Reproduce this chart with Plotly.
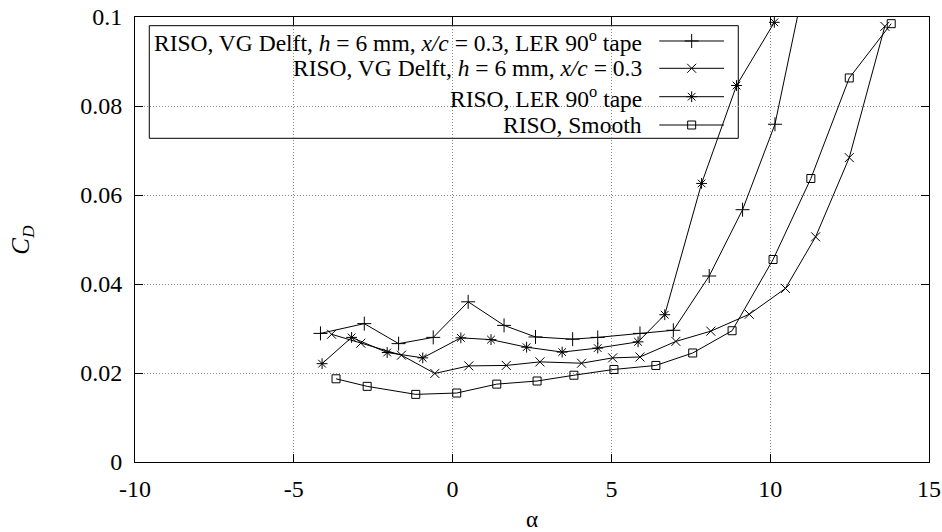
import plotly.graph_objects as go

# ---- data ----
alpha_ler_vg = [-4.16, -2.78, -1.70, -0.61, 0.49, 1.62, 2.61, 3.78, 4.57, 5.90, 6.95, 8.08, 9.13, 10.15, 11.15]
cd_ler_vg = [0.0289, 0.0311, 0.0266, 0.0280, 0.0360, 0.0307, 0.0281, 0.0276, 0.0280, 0.0289, 0.0296, 0.0418, 0.0567, 0.0759, 0.1100]

alpha_vg = [-3.81, -2.89, -1.61, -0.56, 0.51, 1.69, 2.75, 4.06, 5.04, 5.90, 7.03, 8.13, 9.34, 10.48, 11.43, 12.49, 13.61]
cd_vg = [0.0287, 0.0267, 0.0240, 0.0199, 0.0216, 0.0217, 0.0225, 0.0222, 0.0234, 0.0236, 0.0271, 0.0294, 0.0332, 0.0390, 0.0506, 0.0684, 0.0979]

alpha_ler = [-4.11, -3.18, -2.06, -0.94, 0.26, 1.21, 2.33, 3.45, 4.57, 5.84, 6.68, 7.84, 8.94, 10.13]
cd_ler = [0.0221, 0.0280, 0.0246, 0.0234, 0.0279, 0.0275, 0.0258, 0.0247, 0.0256, 0.0270, 0.0331, 0.0626, 0.0846, 0.0988]

alpha_smooth = [-3.67, -2.69, -1.16, 0.13, 1.39, 2.66, 3.82, 5.08, 6.40, 7.56, 8.80, 10.09, 11.28, 12.49, 13.81]
cd_smooth = [0.0187, 0.0170, 0.0152, 0.0155, 0.0175, 0.0182, 0.0195, 0.0208, 0.0217, 0.0245, 0.0295, 0.0455, 0.0637, 0.0863, 0.0985]

series_names = [
    "RISO, VG Delft, <i>h</i> = 6 mm, <i>x/c</i> = 0.3, LER 90<sup>o</sup> tape",
    "RISO, VG Delft, <i>h</i> = 6 mm, <i>x/c</i> = 0.3",
    "RISO, LER 90<sup>o</sup> tape",
    "RISO, Smooth",
]
x_tickvals = [-10, -5, 0, 5, 10, 15]
x_ticktext = ["-10", "-5", "0", "5", "10", "15"]
y_tickvals = [0, 0.02, 0.04, 0.06, 0.08, 0.1]
y_ticktext = ["0", "0.02", "0.04", "0.06", "0.08", "0.1"]

FONT = "Liberation Serif, Times New Roman, serif"
FS_TICK = 24
FS_LEG = 23.5

symbols = ["cross-thin-open", "x-thin-open", "asterisk-open", "square-open"]
sizes = [10, 9, 9, 8]
xs = [alpha_ler_vg, alpha_vg, alpha_ler, alpha_smooth]
ys = [cd_ler_vg, cd_vg, cd_ler, cd_smooth]

fig = go.Figure()
for x, y, sym, sz, nm in zip(xs, ys, symbols, sizes, series_names):
    fig.add_trace(go.Scatter(
        x=x, y=y, mode="lines+markers", name=nm, showlegend=False,
        line=dict(color="black", width=1),
        marker=dict(symbol=sym, size=sz, color="black", line=dict(color="black", width=1)),
        cliponaxis=True,
    ))

# ---- custom legend (gnuplot style: text right, sample on the right) ----
leg_x0, leg_x1 = 0.018, 0.7598
leg_y0, leg_y1 = 0.7274, 0.9805
row_y = [0.9461, 0.8847, 0.8209, 0.7573]
text_x = 0.641
samp_x = [0.6603, 0.7011, 0.7418]

annotations = []
for ry, nm, sym, sz in zip(row_y, series_names, symbols, sizes):
    annotations.append(dict(
        x=text_x, y=ry, xref="paper", yref="paper", text=nm, showarrow=False,
        xanchor="right", yanchor="middle", font=dict(family=FONT, size=FS_LEG, color="black"),
    ))
    fig.add_trace(go.Scatter(
        x=[samp_x[0], samp_x[2]], y=[ry, ry], xaxis="x2", yaxis="y2", mode="lines",
        line=dict(color="black", width=1), showlegend=False, hoverinfo="skip",
    ))
    fig.add_trace(go.Scatter(
        x=[samp_x[1]], y=[ry], xaxis="x2", yaxis="y2", mode="markers",
        marker=dict(symbol=sym, size=sz, color="black", line=dict(color="black", width=1)),
        showlegend=False, hoverinfo="skip",
    ))

annotations.append(dict(
    x=-0.142, y=0.5, xref="paper", yref="paper", text="<i>C<sub>D</sub></i>",
    showarrow=False, textangle=-90, xanchor="center", yanchor="middle",
    font=dict(family=FONT, size=25, color="black"),
))
annotations.append(dict(
    x=0.5, y=-0.13, xref="paper", yref="paper", text="α",
    showarrow=False, xanchor="center", yanchor="middle",
    font=dict(family=FONT, size=23, color="black"),
))

axis_common = dict(
    showline=True, linecolor="black", linewidth=1, mirror="ticks",
    ticks="inside", ticklen=8, tickcolor="black", tickwidth=1,
    showgrid=True, gridcolor="#8c8c8c", griddash="1px,2px", gridwidth=1,
    zeroline=False, automargin=False,
    tickfont=dict(family=FONT, size=FS_TICK, color="black"),
)

fig.update_layout(
    width=942, height=532,
    margin=dict(l=135, r=13, t=17, b=70, autoexpand=False),
    paper_bgcolor="white", plot_bgcolor="white",
    xaxis=dict(range=[-10, 15], tickvals=x_tickvals, ticktext=x_ticktext,
               ticklabelstandoff=5, **axis_common),
    yaxis=dict(range=[0, 0.1], tickvals=y_tickvals, ticktext=y_ticktext,
               ticklabelstandoff=7, **axis_common),
    xaxis2=dict(overlaying="x", range=[0, 1], visible=False, fixedrange=True),
    yaxis2=dict(overlaying="y", range=[0, 1], visible=False, fixedrange=True),
    shapes=[dict(type="rect", xref="paper", yref="paper", x0=leg_x0, x1=leg_x1,
                 y0=leg_y0, y1=leg_y1, line=dict(color="black", width=1),
                 fillcolor="white", layer="between")],
    annotations=annotations,
    showlegend=False,
)

fig.write_html("out.html", config={"displayModeBar": False},
               post_script="document.body.style.margin='0';")
